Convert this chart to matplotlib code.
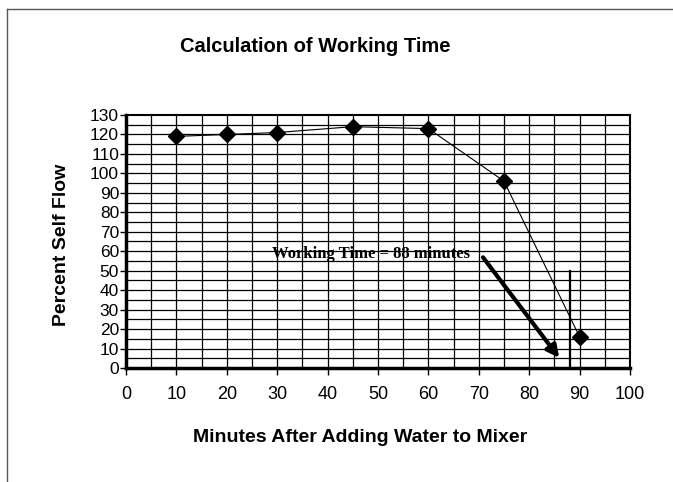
import numpy as np
import matplotlib
matplotlib.use("Agg")
import matplotlib.pyplot as plt
from matplotlib.lines import Line2D

plt.rcParams['font.family'] = ['Liberation Sans', 'DejaVu Sans']

# data
minutes = [10, 20, 30, 45, 60, 75, 90]
self_flow = [119, 120, 121, 124, 123, 96, 16]
x_ticks = list(range(0, 101, 10))
y_ticks = list(range(0, 131, 10))
working_time = 88
working_line_top = 50

fig = plt.figure(figsize=(6.73, 4.82), dpi=100)
ax = fig.add_axes([126 / 673, 1 - 368 / 482, 504 / 673, 253 / 482])

# grid every 5 units both ways
ax.set_xlim(0, 100)
ax.set_ylim(0, 130)
for gx in np.arange(5, 100, 5):
    ax.axvline(gx, color='black', lw=0.9, zorder=1)
for gy in np.arange(5, 130, 5):
    ax.axhline(gy, color='black', lw=0.9, zorder=1)

ax.plot(minutes, self_flow, color='black', lw=0.8, marker='D',
        markersize=8.5, markerfacecolor='black', zorder=3)

# working time marker + annotation
ax.plot([working_time, working_time], [0, working_line_top], color='black', lw=1.6, zorder=3)
ax.text(29, 58.5, 'Working Time = 88 minutes', family='Liberation Serif',
        fontsize=12, fontweight='bold', va='center', ha='left', zorder=4)
ax.annotate('', xy=(86.3, 4), xytext=(70.5, 58),
            arrowprops=dict(arrowstyle='-|>', color='black', lw=3,
                            mutation_scale=18), zorder=4)

ax.set_xticks(x_ticks)
ax.set_yticks(y_ticks)
ax.tick_params(axis='x', direction='out', length=5, width=1, pad=8, labelsize=13)
ax.tick_params(axis='y', direction='out', length=4, width=1, pad=1, labelsize=12.5)

for side in ['left', 'bottom']:
    ax.spines[side].set_linewidth(2.5)
for side in ['top', 'right']:
    ax.spines[side].set_linewidth(1.5)

fig.text(315 / 673, 1 - 47 / 482, 'Calculation of Working Time', ha='center', va='center',
         fontsize=14.5, fontweight='bold')
fig.text(360 / 673, 1 - 438 / 482, 'Minutes After Adding Water to Mixer', ha='center',
         va='center', fontsize=14, fontweight='bold')
fig.text(62 / 673, 1 - 245 / 482, 'Percent Self Flow', ha='center', va='center',
         rotation=90, fontsize=14, fontweight='bold')

# scanned page border (top and left only)
fig.add_artist(Line2D([7 / 673, 1], [1 - 9 / 482, 1 - 9 / 482], color='#555555', lw=1))
fig.add_artist(Line2D([7 / 673, 7 / 673], [0, 1 - 9 / 482], color='#555555', lw=1))

fig.savefig('out.png', dpi=100)
